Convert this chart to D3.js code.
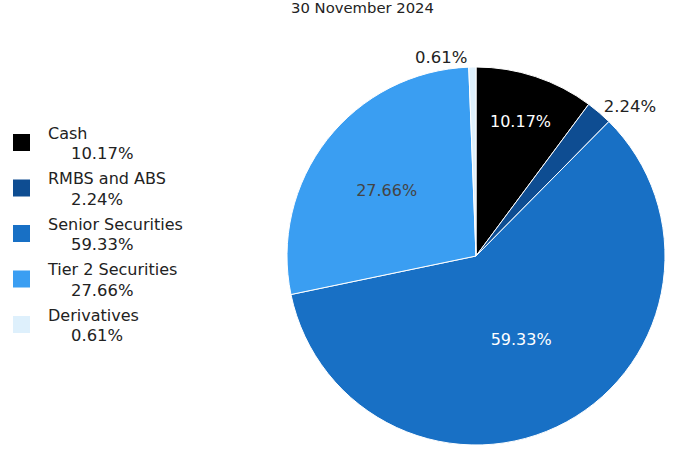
<!DOCTYPE html>
<html>
<head>
<meta charset="utf-8">
<script src="https://cdn.jsdelivr.net/npm/d3@7"></script>
<style>
  html, body { margin: 0; padding: 0; background: #fff; }
  svg { display: block; font-family: "DejaVu Sans", Verdana, sans-serif; }
</style>
</head>
<body>
<svg id="chart" width="675" height="474"></svg>
<script>
// Portfolio composition as at the reporting date
const title = "30 November 2024";
const categories = ["Cash", "RMBS and ABS", "Senior Securities", "Tier 2 Securities", "Derivatives"];
const values = [10.17, 2.24, 59.33, 27.66, 0.61];
const colors = ["#000000", "#0e4d92", "#1870c5", "#3a9ef2", "#def0fc"];

// Label placement: inside slices (radial fraction) or outside at the rim
const labelMode = ["inside", "outside", "inside", "inside", "outside"];
const labelRadius = [0.75, 1, 0.5, 0.6, 1];
const labelNudgeY = [0, 0, 0, 4, 2];
const labelFill = ["#ffffff", "#222222", "#ffffff", "#444444", "#222222"];

const svg = d3.select("#chart");
const cx = 476, cy = 256, radius = 189;

const fmt = v => v.toFixed(2) + "%";

// Title
svg.append("text")
  .attr("x", 362.5)
  .attr("y", 13)
  .attr("text-anchor", "middle")
  .attr("font-size", 14.8)
  .attr("fill", "#222")
  .text(title);

// Pie
const data = categories.map((c, i) => ({ name: c, value: values[i], i }));
const pie = d3.pie().value(d => d.value).sort(null);
const arcs = pie(data);
const arc = d3.arc().innerRadius(0).outerRadius(radius);

const g = svg.append("g").attr("transform", `translate(${cx},${cy})`);

g.selectAll("path.slice")
  .data(arcs)
  .join("path")
  .attr("class", "slice")
  .attr("d", arc)
  .attr("fill", d => colors[d.data.i])
  .attr("stroke", "#ffffff")
  .attr("stroke-width", 1);

// Slice labels
arcs.forEach(d => {
  const i = d.data.i;
  const mid = (d.startAngle + d.endAngle) / 2;
  const sx = Math.sin(mid), sy = -Math.cos(mid);
  if (labelMode[i] === "inside") {
    const r = radius * labelRadius[i];
    g.append("text")
      .attr("x", sx * r)
      .attr("y", sy * r + labelNudgeY[i])
      .attr("dy", "0.35em")
      .attr("text-anchor", "middle")
      .attr("font-size", 16)
      .attr("fill", labelFill[i])
      .text(fmt(values[i]));
  } else {
    const r = radius + 4;
    const right = sx >= 0.05;
    g.append("text")
      .attr("x", sx * r + (right ? 2 : -5))
      .attr("y", sy * r + (right ? 2 : -2) + labelNudgeY[i])
      .attr("text-anchor", right ? "start" : "end")
      .attr("font-size", 16.5)
      .attr("fill", labelFill[i])
      .text(fmt(values[i]));
  }
});

// Legend
const legendTop = 134, legendStep = 45.5;
const legend = svg.append("g");
data.forEach((d, k) => {
  const y = legendTop + k * legendStep;
  legend.append("rect")
    .attr("x", 13).attr("y", y)
    .attr("width", 17).attr("height", 17)
    .attr("fill", colors[d.i]);
  legend.append("text")
    .attr("x", 48).attr("y", y + 4.5)
    .attr("font-size", 16).attr("fill", "#222")
    .text(d.name);
  legend.append("text")
    .attr("x", 71).attr("y", y + 25)
    .attr("font-size", 16.4).attr("fill", "#222")
    .text(fmt(d.value));
});
</script>
</body>
</html>
